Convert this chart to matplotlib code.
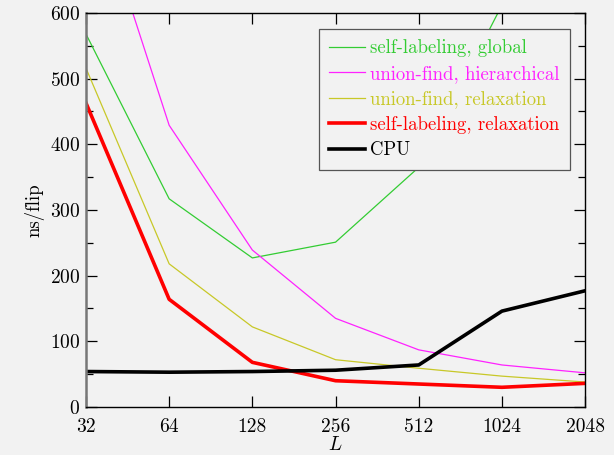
import matplotlib
matplotlib.use("Agg")
import matplotlib.pyplot as plt
from matplotlib.ticker import FixedLocator, MultipleLocator

plt.rcParams['font.family'] = ['cmr10', 'DejaVu Serif']
plt.rcParams['mathtext.fontset'] = 'cm'
plt.rcParams['axes.formatter.use_mathtext'] = True

L = [32, 64, 128, 256, 512, 1024, 2048]
sl_global = [568, 317, 227, 251, 365, 612, 1100]
uf_hier = [820, 429, 239, 135, 87, 64, 52]
uf_relax = [516, 218, 122, 72, 59, 47, 38]
sl_relax = [463, 164, 68, 40, 35, 30, 36]
cpu = [54, 53, 54, 56, 64, 146, 177]

series = [
    ("self-labeling, global", sl_global, "#33cc33", 0.9),
    ("union-find, hierarchical", uf_hier, "#ff22ff", 0.9),
    ("union-find, relaxation", uf_relax, "#c8c828", 0.9),
    ("self-labeling, relaxation", sl_relax, "#ff0000", 2.6),
    ("CPU", cpu, "#000000", 2.6),
]

bg = "#f2f2f2"
fig = plt.figure(figsize=(6.14, 4.55), dpi=100, facecolor=bg)
ax = fig.add_axes([0.140, 0.1055, 0.813, 0.866], facecolor=bg)

for name, vals, col, lw in series:
    ax.plot(L, vals, color=col, lw=lw, label=name)

ax.set_xscale('log', base=2)
ax.set_xlim(32, 2048)
ax.set_ylim(0, 600)
ax.xaxis.set_major_locator(FixedLocator(L))
ax.xaxis.set_minor_locator(FixedLocator([]))
ax.set_xticklabels([str(v) for v in L])
ax.yaxis.set_major_locator(MultipleLocator(100))
ax.yaxis.set_minor_locator(MultipleLocator(50))

ax.tick_params(which='both', direction='in', top=True, right=True,
               labelsize=14, width=0.9)
ax.tick_params(which='major', length=8, pad=4)
ax.tick_params(axis='x', which='major', pad=8)
ax.tick_params(which='minor', length=5)
for s in ax.spines.values():
    s.set_linewidth(1.0)
ax.spines['left'].set_color('#777777')
ax.spines['left'].set_linewidth(1.8)

ax.set_xlabel('$L$', fontsize=14, labelpad=0)
ax.set_ylabel('ns/flip', fontsize=13.5, labelpad=4)

leg = ax.legend(loc='upper right', bbox_to_anchor=(0.970, 0.959),
                borderaxespad=0, fontsize=13.5,
                frameon=True, fancybox=False, edgecolor='#555555',
                facecolor=bg, framealpha=1, handlelength=1.9,
                handletextpad=0.3, labelspacing=0.4, borderpad=0.55)
leg.get_frame().set_linewidth(0.9)
for txt, (_, _, col, _) in zip(leg.get_texts(), series):
    txt.set_color(col)

fig.savefig("out.png", dpi=100, facecolor=bg)
